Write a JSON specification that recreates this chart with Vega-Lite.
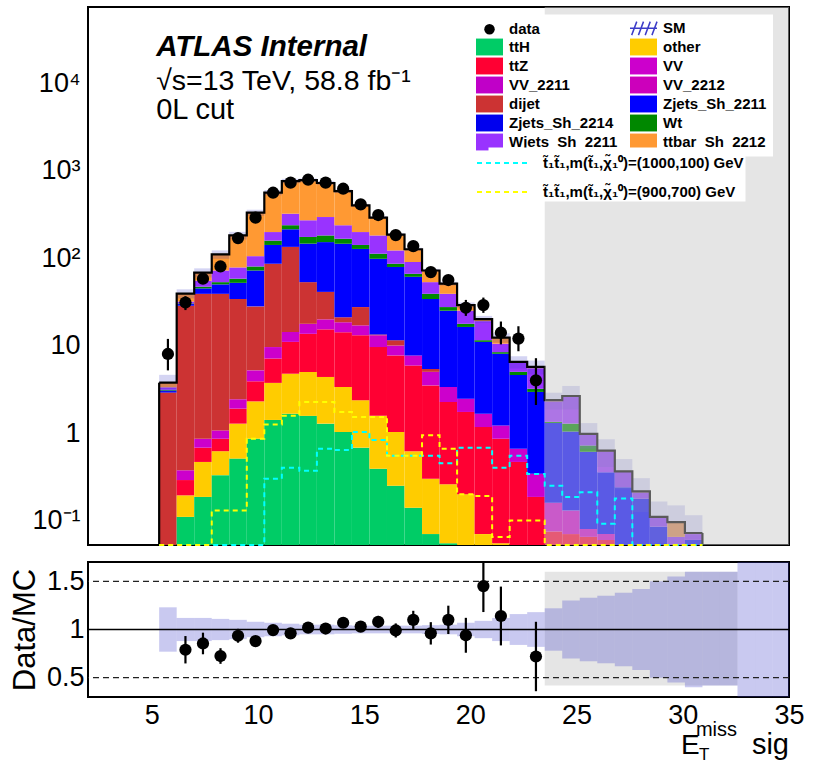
{
  "$schema": "https://vega.github.io/schema/vega-lite/v6.json",
  "background": "white",
  "padding": {"left": 8, "top": -6, "right": 5, "bottom": 0},
  "config": {
    "font": "Liberation Sans",
    "view": {"stroke": "black", "strokeWidth": 2},
    "axis": {"grid": false, "domain": false, "tickSize": 0, "tickColor": "black", "tickWidth": 1.3, "labelColor": "black", "labelFont": "Liberation Sans", "labelFontSize": 27, "titleFont": "Liberation Sans", "titleColor": "black", "titleFontWeight": "normal", "labelOverlap": false, "labelFlush": false},
    "legend": {"labelFont": "Liberation Sans", "labelColor": "black"}
  },
  "datasets": {
    "bins": [
      {"b":0,"lo":5.35,"hi":6.175,"c":5.7625,"dijet":2.9,"Zjets_Sh_2211":0.15,"Wt":0.07,"Wjets_Sh_2211":0.21,"ttbar_Sh_2212":0.43,"data":8,"dlo":5.2,"dhi":11.9,"smlo":2.9,"smhi":4.62,"s1":0.01,"s2":0.01},
      {"b":1,"lo":6.175,"hi":7.0,"c":6.5875,"ttH":0.11,"other":0.084,"ttZ":0.096,"VV":0.085,"dijet":28.1,"Zjets_Sh_2211":1.3,"Wt":0.5,"Wjets_Sh_2211":1.5,"ttbar_Sh_2212":7.4,"data":31,"dlo":25.4,"dhi":36.6,"ratio":0.79,"relo":0.648,"rehi":0.932,"smlo":34.5,"smhi":43.9,"s1":0.01,"s2":0.01},
      {"b":2,"lo":7.0,"hi":7.825,"c":7.4125,"ttH":0.186,"other":0.281,"ttZ":0.213,"VV":0.18,"dijet":38.1,"Zjets_Sh_2211":6,"Wt":2,"Wjets_Sh_2211":8,"ttbar_Sh_2212":13,"data":58,"dlo":50.4,"dhi":65.6,"ratio":0.855,"relo":0.743,"rehi":0.967,"smlo":59.8,"smhi":76.2,"s1":0.01,"s2":0.01},
      {"b":3,"lo":7.825,"hi":8.65,"c":8.2375,"ttH":0.33,"other":0.29,"ttZ":0.24,"VV":0.21,"dijet":37.9,"Zjets_Sh_2211":11,"Wt":3,"Wjets_Sh_2211":19,"ttbar_Sh_2212":38,"data":80,"dlo":71.1,"dhi":88.9,"ratio":0.725,"relo":0.644,"rehi":0.806,"smlo":97.9,"smhi":122.1,"s1":0.01,"s2":0.13},
      {"b":4,"lo":8.65,"hi":9.475,"c":9.0625,"ttH":0.51,"other":0.77,"ttZ":0.62,"VV":0.53,"dijet":31.6,"Zjets_Sh_2211":18,"Wt":6,"Wjets_Sh_2211":20,"ttbar_Sh_2212":103,"data":169,"dlo":156,"dhi":182,"ratio":0.935,"relo":0.863,"rehi":1.007,"smlo":162.9,"smhi":199.1,"s1":0.01,"s2":0.13},
      {"b":5,"lo":9.475,"hi":10.3,"c":9.8875,"ttH":0.86,"other":1.44,"ttZ":1.6,"VV":1.3,"dijet":22.8,"Zjets_Sh_2211":44,"Wt":8,"Wjets_Sh_2211":25,"ttbar_Sh_2212":225,"data":289,"dlo":272,"dhi":306,"ratio":0.88,"relo":0.828,"rehi":0.932,"smlo":303.6,"smhi":356.4,"s1":0.01,"s2":0.86},
      {"b":6,"lo":10.3,"hi":11.125,"c":10.7125,"ttH":1.41,"other":2.33,"ttZ":3.36,"VV":2.5,"dijet":76.4,"Zjets_Sh_2211":55,"Wt":17,"Wjets_Sh_2211":40,"ttbar_Sh_2212":362,"data":557,"dlo":533.4,"dhi":580.6,"ratio":0.994,"relo":0.952,"rehi":1.036,"smlo":520.8,"smhi":599.2,"s1":0.3,"s2":1.25},
      {"b":7,"lo":11.125,"hi":11.95,"c":11.5375,"ttH":1.66,"other":3.1,"ttZ":6.24,"VV":3.3,"dijet":119.7,"Zjets_Sh_2211":79,"Wt":24,"Wjets_Sh_2211":84,"ttbar_Sh_2212":437,"data":726,"dlo":699,"dhi":753,"ratio":0.96,"relo":0.924,"rehi":0.996,"smlo":712.5,"smhi":803.5,"s1":0.4,"s2":1.58},
      {"b":8,"lo":11.95,"hi":12.775,"c":12.3625,"ttH":1.57,"other":3.41,"ttZ":8.62,"VV":4.1,"dijet":35.3,"Zjets_Sh_2211":93,"Wt":28,"Wjets_Sh_2211":96,"ttbar_Sh_2212":505,"data":785,"dlo":757,"dhi":813,"ratio":1.02,"relo":0.984,"rehi":1.056,"smlo":736,"smhi":814,"s1":0.37,"s2":2.26},
      {"b":9,"lo":12.775,"hi":13.6,"c":13.1875,"ttH":1.28,"other":3.09,"ttZ":10.93,"VV":4.6,"dijet":21.1,"Zjets_Sh_2211":111,"Wt":29,"Wjets_Sh_2211":113,"ttbar_Sh_2212":426,"data":726,"dlo":699,"dhi":753,"ratio":1.01,"relo":0.973,"rehi":1.047,"smlo":684,"smhi":756,"s1":0.66,"s2":2.26},
      {"b":10,"lo":13.6,"hi":14.425,"c":14.0125,"ttH":1.03,"other":2.33,"ttZ":10.84,"VV":4.2,"dijet":2.6,"Zjets_Sh_2211":125,"Wt":20,"Wjets_Sh_2211":71,"ttbar_Sh_2212":343,"data":619,"dlo":594,"dhi":644,"ratio":1.07,"relo":1.027,"rehi":1.113,"smlo":554,"smhi":606,"s1":0.64,"s2":1.74},
      {"b":11,"lo":14.425,"hi":15.25,"c":14.8375,"ttH":0.68,"other":1.69,"ttZ":10.73,"VV":3.9,"dijet":10.5,"Zjets_Sh_2211":99.5,"Wt":14,"Wjets_Sh_2211":57,"ttbar_Sh_2212":202,"data":411,"dlo":391,"dhi":431,"ratio":1.03,"relo":0.979,"rehi":1.081,"smlo":384,"smhi":416,"s1":1.03,"s2":1.52},
      {"b":12,"lo":15.25,"hi":16.075,"c":15.6625,"ttH":0.39,"other":1.19,"ttZ":8.02,"VV":3.5,"dijet":0.3,"Zjets_Sh_2211":84.6,"Wt":14,"Wjets_Sh_2211":69,"ttbar_Sh_2212":109,"data":310,"dlo":292.4,"dhi":327.6,"ratio":1.08,"relo":1.019,"rehi":1.141,"smlo":278.4,"smhi":301.6,"s1":0.83,"s2":1.52},
      {"b":13,"lo":16.075,"hi":16.9,"c":16.4875,"ttH":0.25,"other":0.78,"ttZ":6.67,"VV":2.3,"dijet":1.5,"Zjets_Sh_2211":67.5,"Wt":7,"Wjets_Sh_2211":36,"ttbar_Sh_2212":63,"data":183,"dlo":169.5,"dhi":196.5,"ratio":0.99,"relo":0.917,"rehi":1.063,"smlo":177.6,"smhi":192.4,"s1":0.55,"s2":0.55},
      {"b":14,"lo":16.9,"hi":17.725,"c":17.3125,"ttH":0.14,"other":0.48,"ttZ":5.28,"VV":1.8,"Zjets_Sh_2211":53.3,"Wt":5,"Wjets_Sh_2211":24,"ttbar_Sh_2212":36,"data":137,"dlo":125.3,"dhi":148.7,"ratio":1.1,"relo":1.006,"rehi":1.194,"smlo":121,"smhi":131,"s1":0.55,"s2":0.55},
      {"b":15,"lo":17.725,"hi":18.55,"c":18.1375,"ttH":0.07,"other":0.23,"ttZ":3.2,"VV":1.5,"dijet":0.4,"Zjets_Sh_2211":28.6,"Wt":5,"Wjets_Sh_2211":14,"ttbar_Sh_2212":19,"data":69,"dlo":60.7,"dhi":77.3,"ratio":0.96,"relo":0.844,"rehi":1.076,"smlo":68.8,"smhi":75.2,"s1":0.55,"s2":0.94},
      {"b":16,"lo":18.55,"hi":19.375,"c":18.9625,"ttH":0.055,"other":0.205,"ttZ":2.0,"VV":1.1,"Zjets_Sh_2211":21.64,"Wt":2.5,"Wjets_Sh_2211":11.5,"ttbar_Sh_2212":12,"data":56,"dlo":48.5,"dhi":63.5,"ratio":1.1,"relo":0.953,"rehi":1.247,"smlo":48.5,"smhi":53.5,"s1":0.45,"s2":0.66},
      {"b":17,"lo":19.375,"hi":20.2,"c":19.7875,"other":0.2,"ttZ":1.54,"VV":0.73,"Zjets_Sh_2211":13.83,"Wt":1.4,"Wjets_Sh_2211":7.3,"ttbar_Sh_2212":4,"data":27,"dlo":21.8,"dhi":33.2,"ratio":0.94,"relo":0.759,"rehi":1.121,"smlo":27,"smhi":31,"s1":0.68,"s2":0.2},
      {"b":18,"lo":20.2,"hi":21.025,"c":20.6125,"other":0.07,"ttZ":1.1,"VV":0.49,"Zjets_Sh_2211":9.34,"Wt":0.5,"Wjets_Sh_2211":7.5,"ttbar_Sh_2212":1,"data":29,"dlo":23.6,"dhi":35.3,"ratio":1.45,"relo":1.181,"rehi":1.719,"smlo":18.2,"smhi":21.8,"s1":0.68,"s2":0.19},
      {"b":19,"lo":21.025,"hi":21.85,"c":21.4375,"other":0.055,"ttZ":0.805,"VV":0.36,"Zjets_Sh_2211":6.83,"Wt":0.35,"Wjets_Sh_2211":2.1,"ttbar_Sh_2212":1.8,"data":14,"dlo":10.3,"dhi":18.8,"ratio":1.14,"relo":0.835,"rehi":1.445,"smlo":10.8,"smhi":13.8,"s1":0.4,"s2":0.065},
      {"b":20,"lo":21.85,"hi":22.675,"c":22.2625,"ttZ":0.467,"VV":0.193,"Zjets_Sh_2211":3.94,"Wt":0.4,"Wjets_Sh_2211":1.4,"ttbar_Sh_2212":0.1,"data":12,"dlo":8.6,"dhi":16.6,"smlo":5.46,"smhi":7.54,"s1":0.55,"s2":0.1},
      {"b":21,"lo":22.675,"hi":23.5,"c":23.0875,"ttZ":0.186,"VV":0.157,"Zjets_Sh_2211":2.607,"Wt":0.25,"Wjets_Sh_2211":2.3,"ttbar_Sh_2212":0.2,"data":4,"dlo":2.09,"dhi":7.16,"ratio":0.72,"relo":0.36,"rehi":1.08,"smlo":4.67,"smhi":6.73,"s1":0.34,"s2":0.1},
      {"b":22,"lo":23.5,"hi":24.325,"c":23.9125,"ttZ":0.075,"VV":0.085,"Zjets_Sh_2211":1.14,"Wt":0.04,"Wjets_Sh_2211":0.96,"ttbar_Sh_2212":0.07,"smlo":1.85,"smhi":2.89,"s1":0.25,"s2":0.01},
      {"b":23,"lo":24.325,"hi":25.15,"c":24.7375,"ttZ":0.07,"VV":0.06,"Zjets_Sh_2211":0.91,"Wt":0.24,"Wjets_Sh_2211":1.32,"ttbar_Sh_2212":0.05,"smlo":1.86,"smhi":3.45,"s1":0.186,"s2":0.01},
      {"b":24,"lo":25.15,"hi":25.975,"c":25.5625,"ttZ":0.065,"VV":0.015,"Zjets_Sh_2211":0.53,"Wt":0.11,"Wjets_Sh_2211":0.25,"ttbar_Sh_2212":0.01,"smlo":0.66,"smhi":1.3,"s1":0.21,"s2":0.01},
      {"b":25,"lo":25.975,"hi":26.8,"c":26.3875,"ttZ":0.06,"VV":0.01,"Zjets_Sh_2211":0.285,"Wt":0.002,"Wjets_Sh_2211":0.263,"ttbar_Sh_2212":0.01,"smlo":0.41,"smhi":0.85,"s1":0.092,"s2":0.01},
      {"b":26,"lo":26.8,"hi":27.625,"c":27.2125,"VV":0.05,"Zjets_Sh_2211":0.19,"Wjets_Sh_2211":0.12,"ttbar_Sh_2212":0.005,"smlo":0.226,"smhi":0.504,"s1":0.178,"s2":0.01},
      {"b":27,"lo":27.625,"hi":28.45,"c":28.0375,"Zjets_Sh_2211":0.178,"Wjets_Sh_2211":0.032,"ttbar_Sh_2212":0.005,"smlo":0.125,"smhi":0.305,"s1":0.01,"s2":0.01},
      {"b":28,"lo":28.45,"hi":29.275,"c":28.8625,"Zjets_Sh_2211":0.085,"Wjets_Sh_2211":0.023,"ttbar_Sh_2212":0.002,"smlo":0.055,"smhi":0.165,"s1":0.01,"s2":0.01},
      {"b":29,"lo":29.275,"hi":30.1,"c":29.6875,"Zjets_Sh_2211":0.05,"Wjets_Sh_2211":0.015,"ttbar_Sh_2212":0.031,"smlo":0.043,"smhi":0.149,"s1":0.01,"s2":0.01},
      {"b":30,"lo":30.1,"hi":30.925,"c":30.5125,"Zjets_Sh_2211":0.06,"Wjets_Sh_2211":0.01,"ttbar_Sh_2212":0.002,"smlo":0.029,"smhi":0.115,"s1":0.01,"s2":0.01}
    ],
    "band": [
      {"lo":5.35,"hi":6.175,"rlo":0.77,"rhi":1.23},
      {"lo":6.175,"hi":7.0,"rlo":0.88,"rhi":1.12},
      {"lo":7.0,"hi":7.825,"rlo":0.88,"rhi":1.12},
      {"lo":7.825,"hi":8.65,"rlo":0.89,"rhi":1.11},
      {"lo":8.65,"hi":9.475,"rlo":0.9,"rhi":1.1},
      {"lo":9.475,"hi":10.3,"rlo":0.92,"rhi":1.08},
      {"lo":10.3,"hi":11.125,"rlo":0.93,"rhi":1.07},
      {"lo":11.125,"hi":11.95,"rlo":0.94,"rhi":1.06},
      {"lo":11.95,"hi":12.775,"rlo":0.95,"rhi":1.05},
      {"lo":12.775,"hi":13.6,"rlo":0.95,"rhi":1.05},
      {"lo":13.6,"hi":14.425,"rlo":0.955,"rhi":1.045},
      {"lo":14.425,"hi":15.25,"rlo":0.96,"rhi":1.04},
      {"lo":15.25,"hi":16.075,"rlo":0.96,"rhi":1.04},
      {"lo":16.075,"hi":16.9,"rlo":0.96,"rhi":1.04},
      {"lo":16.9,"hi":17.725,"rlo":0.96,"rhi":1.04},
      {"lo":17.725,"hi":18.55,"rlo":0.955,"rhi":1.045},
      {"lo":18.55,"hi":19.375,"rlo":0.95,"rhi":1.05},
      {"lo":19.375,"hi":20.2,"rlo":0.93,"rhi":1.07},
      {"lo":20.2,"hi":21.025,"rlo":0.91,"rhi":1.09},
      {"lo":21.025,"hi":21.85,"rlo":0.88,"rhi":1.12},
      {"lo":21.85,"hi":22.675,"rlo":0.84,"rhi":1.16},
      {"lo":22.675,"hi":23.5,"rlo":0.82,"rhi":1.18},
      {"lo":23.5,"hi":24.325,"rlo":0.78,"rhi":1.22},
      {"lo":24.325,"hi":25.15,"rlo":0.7,"rhi":1.3},
      {"lo":25.15,"hi":25.975,"rlo":0.67,"rhi":1.33},
      {"lo":25.975,"hi":26.8,"rlo":0.65,"rhi":1.35},
      {"lo":26.8,"hi":27.625,"rlo":0.62,"rhi":1.38},
      {"lo":27.625,"hi":28.45,"rlo":0.58,"rhi":1.42},
      {"lo":28.45,"hi":29.275,"rlo":0.5,"rhi":1.5},
      {"lo":29.275,"hi":30.1,"rlo":0.45,"rhi":1.55},
      {"lo":30.1,"hi":30.925,"rlo":0.4,"rhi":1.6},
      {"lo":30.925,"hi":31.75,"rlo":0.42,"rhi":1.6},
      {"lo":31.75,"hi":32.575,"rlo":0.42,"rhi":1.6},
      {"lo":32.575,"hi":33.4,"rlo":0.25,"rhi":1.75},
      {"lo":33.4,"hi":34.225,"rlo":0.25,"rhi":1.75},
      {"lo":34.225,"hi":35.05,"rlo":0.25,"rhi":1.75}
    ]
  },
  "spacing": 2,
  "resolve": {"scale": {"color": "independent", "stroke": "independent"}},
  "vconcat": [
    {
      "width": 701,
      "height": 538,
      "data": {"name": "bins"},
      "resolve": {"axis": {"x": "independent", "y": "independent"}},
      "layer": [
        {
          "transform": [
            {"fold": ["ttH","other","ttZ","VV","VV_2211","VV_2212","dijet","Zjets_Sh_2211","Zjets_Sh_2214","Wt","Wjets_Sh_2211","ttbar_Sh_2212"], "as": ["proc","n"]},
            {"filter": "datum.n > 0"},
            {"stack": "n", "groupby": ["b"], "as": ["n0","n1"]}
          ],
          "mark": {"type": "rect"},
          "encoding": {
            "x": {"field": "lo", "type": "quantitative", "scale": {"domain": [2,35], "nice": false, "zero": false},
              "axis": {"orient": "bottom", "values": [3,4,5,6,7,8,9,10,11,12,13,14,15,16,17,18,19,20,21,22,23,24,25,26,27,28,29,30,31,32,33,34], "labels": false, "title": null,
                "encode": {"ticks": {"update": {"y2": {"signal": "datum.value % 5 === 0 ? -14 : -7"}}}}}},
            "x2": {"field": "hi"},
            "y": {"field": "n1", "type": "quantitative", "scale": {"type": "log", "domain": [0.0525, 73900], "nice": false, "clamp": true},
              "axis": {"orient": "left", "title": null, "labelPadding": 8,
                "values": [0.06,0.07,0.08,0.09,0.1,0.2,0.3,0.4,0.5,0.6,0.7,0.8,0.9,1,2,3,4,5,6,7,8,9,10,20,30,40,50,60,70,80,90,100,200,300,400,500,600,700,800,900,1000,2000,3000,4000,5000,6000,7000,8000,9000,10000,20000,30000,40000,50000,60000,70000],
                "labelExpr": "datum.value === 0.1 ? '10⁻¹' : datum.value === 1 ? '1' : datum.value === 10 ? '10' : datum.value === 100 ? '10²' : datum.value === 1000 ? '10³' : datum.value === 10000 ? '10⁴' : ''",
                "encode": {
                  "ticks": {"update": {"x2": {"signal": "indexof([0.1,1,10,100,1000,10000], datum.value) >= 0 ? 24 : 12"}}},
                  "labels": {"update": {"fontSize": {"signal": "indexof([0.1,1,10,100,1000,10000], datum.value) >= 0 ? 27 : 0"}}}
                }}},
            "y2": {"field": "n0"},
            "color": {"field": "proc", "type": "nominal",
              "scale": {"domain": ["data","SM","ttH","other","ttZ","VV","VV_2211","VV_2212","dijet","Zjets_Sh_2211","Zjets_Sh_2214","Wt","Wjets_Sh_2211","ttbar_Sh_2212"],
                        "range": ["#000000","#3c3cc8","#00cc66","#ffcc00","#ff0033","#cc00cc","#c000c8","#cc00bb","#cc3333","#0000ff","#0000ee","#008800","#9933ff","#ff9933"]},
              "legend": {"orient": "none", "legendX": 388, "legendY": 7.5, "direction": "horizontal", "columns": 2, "title": null, "gridAlign": "all",
                "symbolType": "M-1.6,-1L1.6,-1L1.6,1L-1.6,1Z", "symbolSize": 285, "symbolStrokeWidth": 0,
                "labelFontSize": 15, "labelFontWeight": "bold", "labelOffset": 12, "rowPadding": 0, "columnPadding": 8,
                "padding": 6, "fillColor": "white", "labelLimit": 200,
                "encode": {"symbols": {"update": {
                  "shape": {"signal": "datum.value === 'data' ? 'circle' : datum.value === 'SM' ? 'M-1.6,0L1.6,0M-1.4,0.8L-0.8,-0.8M-0.6,0.8L0,-0.8M0.2,0.8L0.8,-0.8M1,0.8L1.6,-0.8' : 'M-1.6,-1L1.6,-1L1.6,1L-1.6,1Z'"},
                  "size": {"signal": "datum.value === 'data' ? 110 : 285"},
                  "fillOpacity": {"signal": "datum.value === 'SM' ? 0 : 1"},
                  "stroke": {"value": "#3c3cc8"},
                  "strokeWidth": {"signal": "datum.value === 'SM' ? 1.5 : 0"}
                }}}}}
          }
        },
        {
          "mark": {"type": "rect", "color": "#3c3cc8", "opacity": 0.22},
          "encoding": {
            "x": {"field": "lo", "type": "quantitative", "axis": null},
            "x2": {"field": "hi"},
            "y": {"field": "smlo", "type": "quantitative", "axis": null},
            "y2": {"field": "smhi"}
          }
        },
        {
          "transform": [
            {"fold": ["ttH","other","ttZ","VV","VV_2211","VV_2212","dijet","Zjets_Sh_2211","Zjets_Sh_2214","Wt","Wjets_Sh_2211","ttbar_Sh_2212"], "as": ["proc","n"]},
            {"aggregate": [{"op": "sum", "field": "n", "as": "tot"}], "groupby": ["b","lo","hi"]},
            {"fold": ["lo","hi"], "as": ["edge","xe"]}
          ],
          "mark": {"type": "line", "color": "black", "strokeWidth": 2.2},
          "encoding": {
            "x": {"field": "xe", "type": "quantitative",
              "axis": {"orient": "top", "values": [3,4,5,6,7,8,9,10,11,12,13,14,15,16,17,18,19,20,21,22,23,24,25,26,27,28,29,30,31,32,33,34], "labels": false, "title": null,
                "encode": {"ticks": {"update": {"y2": {"signal": "datum.value % 5 === 0 ? 14 : 7"}}}}}},
            "y": {"field": "tot", "type": "quantitative",
              "axis": {"orient": "right", "labels": false, "title": null,
                "values": [0.06,0.07,0.08,0.09,0.1,0.2,0.3,0.4,0.5,0.6,0.7,0.8,0.9,1,2,3,4,5,6,7,8,9,10,20,30,40,50,60,70,80,90,100,200,300,400,500,600,700,800,900,1000,2000,3000,4000,5000,6000,7000,8000,9000,10000,20000,30000,40000,50000,60000,70000],
                "encode": {"ticks": {"update": {"x2": {"signal": "indexof([0.1,1,10,100,1000,10000], datum.value) >= 0 ? -24 : -12"}}}}}},
            "order": [{"field": "b", "type": "quantitative"}, {"field": "edge", "type": "nominal", "sort": "descending"}]
          }
        },
        {
          "transform": [
            {"fold": ["ttH","other","ttZ","VV","VV_2211","VV_2212","dijet","Zjets_Sh_2211","Zjets_Sh_2214","Wt","Wjets_Sh_2211","ttbar_Sh_2212"], "as": ["proc","n"]},
            {"aggregate": [{"op": "sum", "field": "n", "as": "tot"}], "groupby": ["b","lo","hi"]},
            {"filter": "datum.b === 0"}
          ],
          "mark": {"type": "rule", "color": "black", "strokeWidth": 2.2},
          "encoding": {
            "x": {"field": "lo", "type": "quantitative", "axis": null},
            "y": {"field": "tot", "type": "quantitative", "axis": null},
            "y2": {"datum": 0.0525}
          }
        },
        {
          "transform": [
            {"fold": ["ttH","other","ttZ","VV","VV_2211","VV_2212","dijet","Zjets_Sh_2211","Zjets_Sh_2214","Wt","Wjets_Sh_2211","ttbar_Sh_2212"], "as": ["proc","n"]},
            {"aggregate": [{"op": "sum", "field": "n", "as": "tot"}], "groupby": ["b","lo","hi"]},
            {"filter": "datum.b === 30"}
          ],
          "mark": {"type": "rule", "color": "black", "strokeWidth": 2.2},
          "encoding": {
            "x": {"field": "hi", "type": "quantitative", "axis": null},
            "y": {"field": "tot", "type": "quantitative", "axis": null},
            "y2": {"datum": 0.0525}
          }
        },
        {
          "data": {"values": [{}]},
          "mark": {"type": "rect", "color": "#c6c6c6", "opacity": 0.455},
          "encoding": {
            "x": {"datum": 23.5, "axis": null},
            "x2": {"datum": 35},
            "y": {"datum": 73900, "axis": null},
            "y2": {"datum": 0.0525}
          }
        },
        {
          "transform": [
            {"fold": ["s1","s2"], "as": ["sig","v"]},
            {"fold": ["lo","hi"], "as": ["edge","xe"]}
          ],
          "mark": {"type": "line", "strokeWidth": 2, "strokeDash": [5,4]},
          "encoding": {
            "x": {"field": "xe", "type": "quantitative", "axis": null},
            "y": {"field": "v", "type": "quantitative", "axis": null},
            "stroke": {"field": "sig", "type": "nominal",
              "scale": {"domain": ["s1","s2"], "range": ["#00ffff","#ffff00"]},
              "legend": {"orient": "none", "legendX": 400.5, "legendY": 140.5, "title": null, "direction": "vertical",
                "symbolType": "M-2,0L2,0", "symbolSize": 729, "symbolStrokeWidth": 2, "symbolDash": [5,4],
                "labelFontSize": 15, "labelFontWeight": "bold", "labelOffset": 24.5, "rowPadding": 6, "padding": 1,
                "fillColor": "white", "labelLimit": 400,
                "labelExpr": "datum.label === 's1' ? 't̃₁t̃₁,m(t̃₁,χ̃₁⁰)=(1000,100) GeV' : 't̃₁t̃₁,m(t̃₁,χ̃₁⁰)=(900,700) GeV'"}},
            "order": [{"field": "b", "type": "quantitative"}, {"field": "edge", "type": "nominal", "sort": "descending"}]
          }
        },
        {
          "transform": [{"filter": "isValid(datum.data)"}],
          "mark": {"type": "rule", "color": "black", "strokeWidth": 2.2},
          "encoding": {
            "x": {"field": "c", "type": "quantitative", "axis": null},
            "y": {"field": "dlo", "type": "quantitative", "axis": null},
            "y2": {"field": "dhi"}
          }
        },
        {
          "transform": [{"filter": "isValid(datum.data)"}],
          "mark": {"type": "point", "filled": true, "color": "black", "size": 150, "opacity": 1},
          "encoding": {
            "x": {"field": "c", "type": "quantitative", "axis": null},
            "y": {"field": "data", "type": "quantitative", "axis": null}
          }
        },
        {
          "data": {"values": [{}]},
          "mark": {"type": "text", "text": "ATLAS Internal", "fontSize": 29.5, "fontStyle": "italic", "fontWeight": "bold", "align": "left", "baseline": "alphabetic", "color": "black"},
          "encoding": {"x": {"datum": 5.21, "axis": null}, "y": {"datum": 20500, "axis": null}}
        },
        {
          "data": {"values": [{}]},
          "mark": {"type": "text", "text": "√s=13 TeV, 58.8 fb⁻¹", "fontSize": 28.5, "align": "left", "baseline": "alphabetic", "color": "black"},
          "encoding": {"x": {"datum": 5.21, "axis": null}, "y": {"datum": 8320, "axis": null}}
        },
        {
          "data": {"values": [{}]},
          "mark": {"type": "text", "text": "0L cut", "fontSize": 29, "align": "left", "baseline": "alphabetic", "color": "black"},
          "encoding": {"x": {"datum": 5.21, "axis": null}, "y": {"datum": 3880, "axis": null}}
        }
      ]
    },
    {
      "width": 701,
      "height": 135,
      "data": {"name": "bins"},
      "resolve": {"axis": {"x": "independent", "y": "independent"}},
      "layer": [
        {
          "data": {"values": [{}]},
          "mark": {"type": "rect", "color": "#e5e5e5"},
          "encoding": {
            "x": {"datum": 23.5, "scale": {"domain": [2,35], "nice": false, "zero": false}, "axis": null},
            "x2": {"datum": 32.575},
            "y": {"datum": 1.6, "scale": {"domain": [0.3,1.7], "nice": false, "zero": false}, "axis": null},
            "y2": {"datum": 0.42}
          }
        },
        {
          "data": {"name": "band"},
          "mark": {"type": "rect", "color": "#3c3cc8", "opacity": 0.28, "clip": true},
          "encoding": {
            "x": {"field": "lo", "type": "quantitative",
              "axis": {"orient": "bottom", "values": [3,4,5,6,7,8,9,10,11,12,13,14,15,16,17,18,19,20,21,22,23,24,25,26,27,28,29,30,31,32,33,34,35], "title": null, "labelPadding": 5,
                "labelExpr": "datum.value % 5 === 0 ? datum.label : ''",
                "encode": {
                  "ticks": {"update": {"y2": {"signal": "datum.value % 5 === 0 ? -13 : -7"}}},
                  "labels": {"update": {"fontSize": {"signal": "datum.value % 5 === 0 ? 27 : 0"}}}
                }}},
            "x2": {"field": "hi"},
            "y": {"field": "rlo", "type": "quantitative",
              "axis": {"orient": "left", "values": [0.4,0.5,0.6,0.7,0.8,0.9,1,1.1,1.2,1.3,1.4,1.5,1.6], "title": "Data/MC", "titleFontSize": 31, "titlePadding": 5, "labelPadding": 4,
                "labelExpr": "datum.value === 0.5 ? '0.5' : datum.value === 1 ? '1' : datum.value === 1.5 ? '1.5' : ''",
                "encode": {
                  "ticks": {"update": {"x2": {"signal": "datum.value === 0.5 || datum.value === 1 || datum.value === 1.5 ? 11 : 6"}}},
                  "labels": {"update": {"fontSize": {"signal": "datum.value === 0.5 || datum.value === 1 || datum.value === 1.5 ? 27 : 0"}}}
                }}},
            "y2": {"field": "rhi"}
          }
        },
        {
          "data": {"values": [{}]},
          "mark": {"type": "rule", "color": "black", "strokeWidth": 1.3},
          "encoding": {"y": {"datum": 1, "axis": null}}
        },
        {
          "data": {"values": [{}]},
          "mark": {"type": "rule", "color": "#222222", "strokeWidth": 1.2, "strokeDash": [6,4]},
          "encoding": {"y": {"datum": 0.5, "axis": null}}
        },
        {
          "data": {"values": [{}]},
          "mark": {"type": "rule", "color": "#222222", "strokeWidth": 1.2, "strokeDash": [6,4]},
          "encoding": {"y": {"datum": 1.5, "axis": null}}
        },
        {
          "transform": [{"filter": "isValid(datum.ratio)"}],
          "mark": {"type": "rule", "color": "black", "strokeWidth": 2.2, "clip": true},
          "encoding": {
            "x": {"field": "c", "type": "quantitative",
              "axis": {"orient": "top", "values": [3,4,5,6,7,8,9,10,11,12,13,14,15,16,17,18,19,20,21,22,23,24,25,26,27,28,29,30,31,32,33,34], "labels": false, "title": null,
                "encode": {"ticks": {"update": {"y2": {"signal": "datum.value % 5 === 0 ? 13 : 7"}}}}}},
            "y": {"field": "relo", "type": "quantitative",
              "axis": {"orient": "right", "values": [0.4,0.5,0.6,0.7,0.8,0.9,1,1.1,1.2,1.3,1.4,1.5,1.6], "labels": false, "title": null,
                "encode": {"ticks": {"update": {"x2": {"signal": "datum.value === 0.5 || datum.value === 1 || datum.value === 1.5 ? -11 : -6"}}}}}},
            "y2": {"field": "rehi"}
          }
        },
        {
          "transform": [{"filter": "isValid(datum.ratio)"}],
          "mark": {"type": "point", "filled": true, "color": "black", "size": 150, "opacity": 1, "clip": true},
          "encoding": {
            "x": {"field": "c", "type": "quantitative", "axis": null},
            "y": {"field": "ratio", "type": "quantitative", "axis": null}
          }
        },
        {
          "data": {"values": [{}]},
          "mark": {"type": "text", "text": "E", "fontSize": 28, "align": "left", "baseline": "alphabetic", "color": "black"},
          "encoding": {"x": {"datum": 29.92, "axis": null}, "y": {"datum": -0.29, "axis": null}}
        },
        {
          "data": {"values": [{}]},
          "mark": {"type": "text", "text": "miss", "fontSize": 20, "align": "left", "baseline": "alphabetic", "color": "black"},
          "encoding": {"x": {"datum": 30.62, "axis": null}, "y": {"datum": -0.1, "axis": null}}
        },
        {
          "data": {"values": [{}]},
          "mark": {"type": "text", "text": "T", "fontSize": 17, "align": "left", "baseline": "alphabetic", "color": "black"},
          "encoding": {"x": {"datum": 30.76, "axis": null}, "y": {"datum": -0.35, "axis": null}}
        },
        {
          "data": {"values": [{}]},
          "mark": {"type": "text", "text": "sig", "fontSize": 29, "align": "right", "baseline": "alphabetic", "color": "black"},
          "encoding": {"x": {"datum": 35, "axis": null}, "y": {"datum": -0.29, "axis": null}}
        }
      ]
    }
  ]
}
